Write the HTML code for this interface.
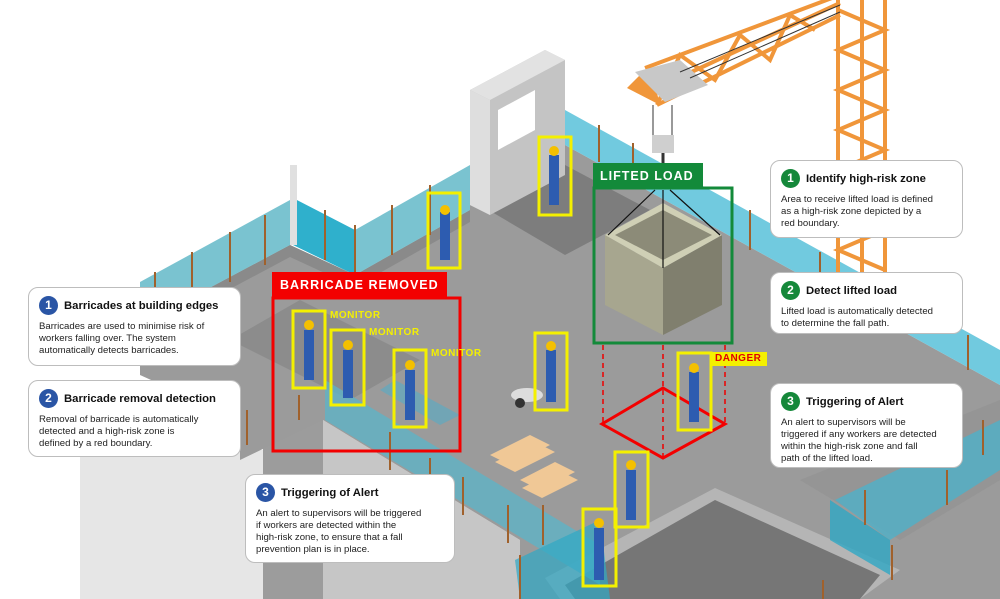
<!DOCTYPE html>
<html><head><meta charset="utf-8"><style>
html,body{margin:0;padding:0;background:#fff}
body{width:1000px;height:599px;position:relative;overflow:hidden;font-family:"Liberation Sans",sans-serif}
.card{position:absolute;background:#fff;border:1.5px solid #bdbdbd;border-radius:10px;box-sizing:border-box;padding:8px 10px}
.card h3{margin:0 0 6px 0;font-size:11.3px;font-weight:bold;color:#111;display:flex;align-items:center;white-space:nowrap}
.card p{margin:0;font-size:9.6px;line-height:12px;color:#222;white-space:nowrap}
.n{display:inline-block;width:19px;height:19px;border-radius:50%;color:#fff;font-size:12px;text-align:center;line-height:19px;margin-right:6px;flex:none}
.b{background:#2a55a5}.g{background:#15883a}
.lbl{position:absolute;font-weight:bold;font-size:12.5px;letter-spacing:1px;color:#fff}
.mon{position:absolute;font-weight:bold;font-size:10px;color:#f4f000;letter-spacing:.5px}
</style></head><body>
<svg width="1000" height="599" style="position:absolute;left:0;top:0">
<polygon points="80,450 263,450 263,599 80,599" fill="#e6e6e6"/>
<polygon points="263,420 323,420 323,599 263,599" fill="#9c9c9c"/>
<polygon points="323,420 520,540 520,599 323,599" fill="#c6c6c6"/>
<polygon points="140,325 290,245 355,275 470,210 470,150 565,145 1000,385 1000,599 520,599 520,540 323,420 240,460 240,420 140,375" fill="#9b9b9b"/>
<polygon points="140,325 290,245 355,275 470,210 470,222 355,287 290,257 140,337" fill="#8a8a8a"/>
<polygon points="230,340 300,300 420,360 350,400" fill="#8c8c8c"/>
<polygon points="480,205 565,165 650,210 565,255" fill="#7d7d7d"/>
<polygon points="545,578 715,488 900,570 860,599 560,599" fill="#b5b5b5"/>
<polygon points="565,585 715,500 880,575 860,599 575,599" fill="#767676"/>
<polygon points="800,480 1000,400 1000,480 900,540" fill="#959595"/>
<polygon points="140,325 290,245 290,200 140,282" fill="#6cbccb" opacity=".9"/>
<polygon points="293,245 355,275 355,230 293,198" fill="#2fb0cc"/>
<polygon points="355,275 470,210 470,165 355,230" fill="#6cbccb" opacity=".9"/>
<polygon points="565,110 1000,350 1000,385 565,145" fill="#62c4dc" opacity=".9"/>
<polygon points="325,420 600,585 600,545 325,380" fill="#5fb3c6" opacity=".8"/>
<polygon points="515,560 600,520 610,599 520,599" fill="#2fa8c4" opacity=".7"/>
<polygon points="835,500 1000,420 1000,470 890,540" fill="#4fb0c8" opacity=".8"/>
<polygon points="830,500 890,540 890,575 830,540" fill="#2fa8c4" opacity=".8"/>
<polygon points="395,380 460,415 440,425 380,390" fill="#5fa9c0" opacity=".7"/>
<g stroke="#a0612c" stroke-width="2">
<line x1="155" y1="272" x2="155" y2="322"/><line x1="192" y1="252" x2="192" y2="302"/><line x1="230" y1="232" x2="230" y2="282"/><line x1="265" y1="215" x2="265" y2="265"/><line x1="325" y1="210" x2="325" y2="260"/><line x1="355" y1="225" x2="355" y2="272"/><line x1="392" y1="205" x2="392" y2="255"/><line x1="430" y1="185" x2="430" y2="235"/>
<line x1="599" y1="125" x2="599" y2="162"/><line x1="633" y1="143" x2="633" y2="182"/><line x1="750" y1="210" x2="750" y2="250"/><line x1="820" y1="252" x2="820" y2="290"/><line x1="968" y1="335" x2="968" y2="370"/><line x1="983" y1="420" x2="983" y2="455"/><line x1="947" y1="470" x2="947" y2="505"/>
<line x1="247" y1="410" x2="247" y2="445"/><line x1="299" y1="395" x2="299" y2="420"/><line x1="390" y1="432" x2="390" y2="470"/><line x1="430" y1="458" x2="430" y2="496"/><line x1="463" y1="477" x2="463" y2="515"/><line x1="508" y1="505" x2="508" y2="543"/><line x1="543" y1="505" x2="543" y2="545"/><line x1="520" y1="555" x2="520" y2="599"/><line x1="865" y1="490" x2="865" y2="525"/><line x1="892" y1="545" x2="892" y2="580"/><line x1="823" y1="580" x2="823" y2="599"/>
</g>
<rect x="290" y="165" width="7" height="80" fill="#e0e0e0"/>
<polygon points="470,90 545,50 565,60 565,175 490,215 470,205" fill="#c4c4c4"/>
<polygon points="470,90 545,50 565,60 490,100" fill="#e2e2e2"/>
<polygon points="470,90 490,100 490,215 470,205" fill="#dedede"/>
<polygon points="498,110 535,90 535,130 498,150" fill="#fff"/>
<g stroke="#f0963a" stroke-width="4" fill="none">
<line x1="838" y1="0" x2="838" y2="275"/><line x1="885" y1="0" x2="885" y2="275"/><line x1="862" y1="0" x2="862" y2="275"/>
<polyline points="838,10 885,30 838,50 885,70 838,90 885,110 838,130 885,150 838,170 885,190 838,210 885,230 838,250 885,270"/>
<line x1="645" y1="68" x2="840" y2="-5"/><line x1="657" y1="105" x2="840" y2="15"/><line x1="685" y1="75" x2="840" y2="3"/>
<polyline points="657,105 680,55 715,80 740,35 770,60 790,15 815,30"/>
</g>
<polygon points="627,88 650,65 660,105" fill="#f0963a"/>
<polygon points="635,72 680,60 708,85 665,102" fill="#c8c8c8"/>
<g stroke="#333" stroke-width="1"><line x1="680" y1="72" x2="840" y2="5"/><line x1="690" y1="78" x2="840" y2="12"/><line x1="653" y1="105" x2="653" y2="140"/><line x1="672" y1="105" x2="672" y2="140"/></g>
<rect x="652" y="135" width="22" height="18" fill="#cfcfcf"/>
<line x1="663" y1="153" x2="663" y2="185" stroke="#333" stroke-width="3"/>
<polygon points="605,235 663,268 663,335 605,305" fill="#a7a68f"/>
<polygon points="663,268 722,235 722,305 663,335" fill="#807f6e"/>
<polygon points="605,235 663,203 722,235 663,268" fill="#cfcfb5"/>
<polygon points="615,235 663,210 712,235 663,260" fill="#8c8b78"/>
<g stroke="#111" stroke-width="1.2"><line x1="655" y1="190" x2="608" y2="235"/><line x1="670" y1="190" x2="720" y2="235"/><line x1="663" y1="190" x2="663" y2="268"/></g>
<g fill="#f0c896"><polygon points="490,455 530,435 550,445 510,465"/><polygon points="495,462 535,442 555,452 515,472"/><polygon points="520,480 555,462 575,472 540,490"/><polygon points="522,488 558,470 578,480 542,498"/></g>
<ellipse cx="527" cy="395" rx="16" ry="7" fill="#ddd"/><circle cx="520" cy="403" r="5" fill="#333"/>
<rect x="594" y="188" width="138" height="155" fill="none" stroke="#138a3a" stroke-width="3"/>
<rect x="593" y="163" width="110" height="25" fill="#138a3a"/>
<rect x="272" y="272" width="175" height="26" fill="#f30000"/>
<rect x="273" y="298" width="187" height="153" fill="none" stroke="#f30000" stroke-width="3"/>
<g stroke="#e00" stroke-width="1.5" stroke-dasharray="5,4"><line x1="603" y1="345" x2="603" y2="424"/><line x1="663" y1="345" x2="663" y2="458"/><line x1="725" y1="345" x2="725" y2="424"/></g>
<polygon points="663,388 725,424 663,458 602,424" fill="none" stroke="#f30000" stroke-width="3"/>
<rect x="711" y="352" width="56" height="14" fill="#f4f000"/>
<g fill="#2d5cb0">
<rect x="440" y="212" width="10" height="48"/><rect x="549" y="155" width="10" height="50"/><rect x="304" y="330" width="10" height="50"/><rect x="343" y="350" width="10" height="48"/><rect x="405" y="370" width="10" height="50"/><rect x="546" y="350" width="10" height="52"/><rect x="689" y="372" width="10" height="50"/><rect x="626" y="470" width="10" height="50"/><rect x="594" y="528" width="10" height="52"/>
</g>
<g fill="#f4c000"><circle cx="445" cy="210" r="5"/><circle cx="554" cy="151" r="5"/><circle cx="309" cy="325" r="5"/><circle cx="348" cy="345" r="5"/><circle cx="410" cy="365" r="5"/><circle cx="551" cy="346" r="5"/><circle cx="694" cy="368" r="5"/><circle cx="631" cy="465" r="5"/><circle cx="599" cy="523" r="5"/></g>
<g fill="none" stroke="#f4f000" stroke-width="3">
<rect x="428" y="193" width="32" height="75"/><rect x="539" y="137" width="32" height="78"/><rect x="293" y="311" width="32" height="77"/><rect x="331" y="330" width="33" height="75"/><rect x="394" y="350" width="32" height="77"/><rect x="535" y="333" width="32" height="77"/><rect x="678" y="353" width="33" height="77"/><rect x="615" y="452" width="33" height="75"/><rect x="583" y="509" width="33" height="77"/>
</g>
</svg>
<div class="lbl" style="left:600px;top:169px">LIFTED LOAD</div>
<div class="lbl" style="left:280px;top:278px">BARRICADE REMOVED</div>
<div class="mon" style="left:330px;top:310px">MONITOR</div>
<div class="mon" style="left:369px;top:327px">MONITOR</div>
<div class="mon" style="left:431px;top:348px">MONITOR</div>
<div class="mon" style="left:715px;top:353px;color:#e00000">DANGER</div>
<div class="card" style="left:28px;top:287px;width:213px;height:79px"><h3><span class="n b">1</span>Barricades at building edges</h3><p>Barricades are used to minimise risk of<br>workers falling over. The system<br>automatically detects barricades.</p></div>
<div class="card" style="left:28px;top:380px;width:213px;height:77px"><h3><span class="n b">2</span>Barricade removal detection</h3><p>Removal of barricade is automatically<br>detected and a high-risk zone is<br>defined by a red boundary.</p></div>
<div class="card" style="left:245px;top:474px;width:210px;height:89px"><h3><span class="n b">3</span>Triggering of Alert</h3><p>An alert to supervisors will be triggered<br>if workers are detected within the<br>high-risk zone, to ensure that a fall<br>prevention plan is in place.</p></div>
<div class="card" style="left:770px;top:160px;width:193px;height:78px"><h3><span class="n g">1</span>Identify high-risk zone</h3><p>Area to receive lifted load is defined<br>as a high-risk zone depicted by a<br>red boundary.</p></div>
<div class="card" style="left:770px;top:272px;width:193px;height:62px"><h3><span class="n g">2</span>Detect lifted load</h3><p>Lifted load is automatically detected<br>to determine the fall path.</p></div>
<div class="card" style="left:770px;top:383px;width:193px;height:85px"><h3><span class="n g">3</span>Triggering of Alert</h3><p>An alert to supervisors will be<br>triggered if any workers are detected<br>within the high-risk zone and fall<br>path of the lifted load.</p></div>
</body></html>
